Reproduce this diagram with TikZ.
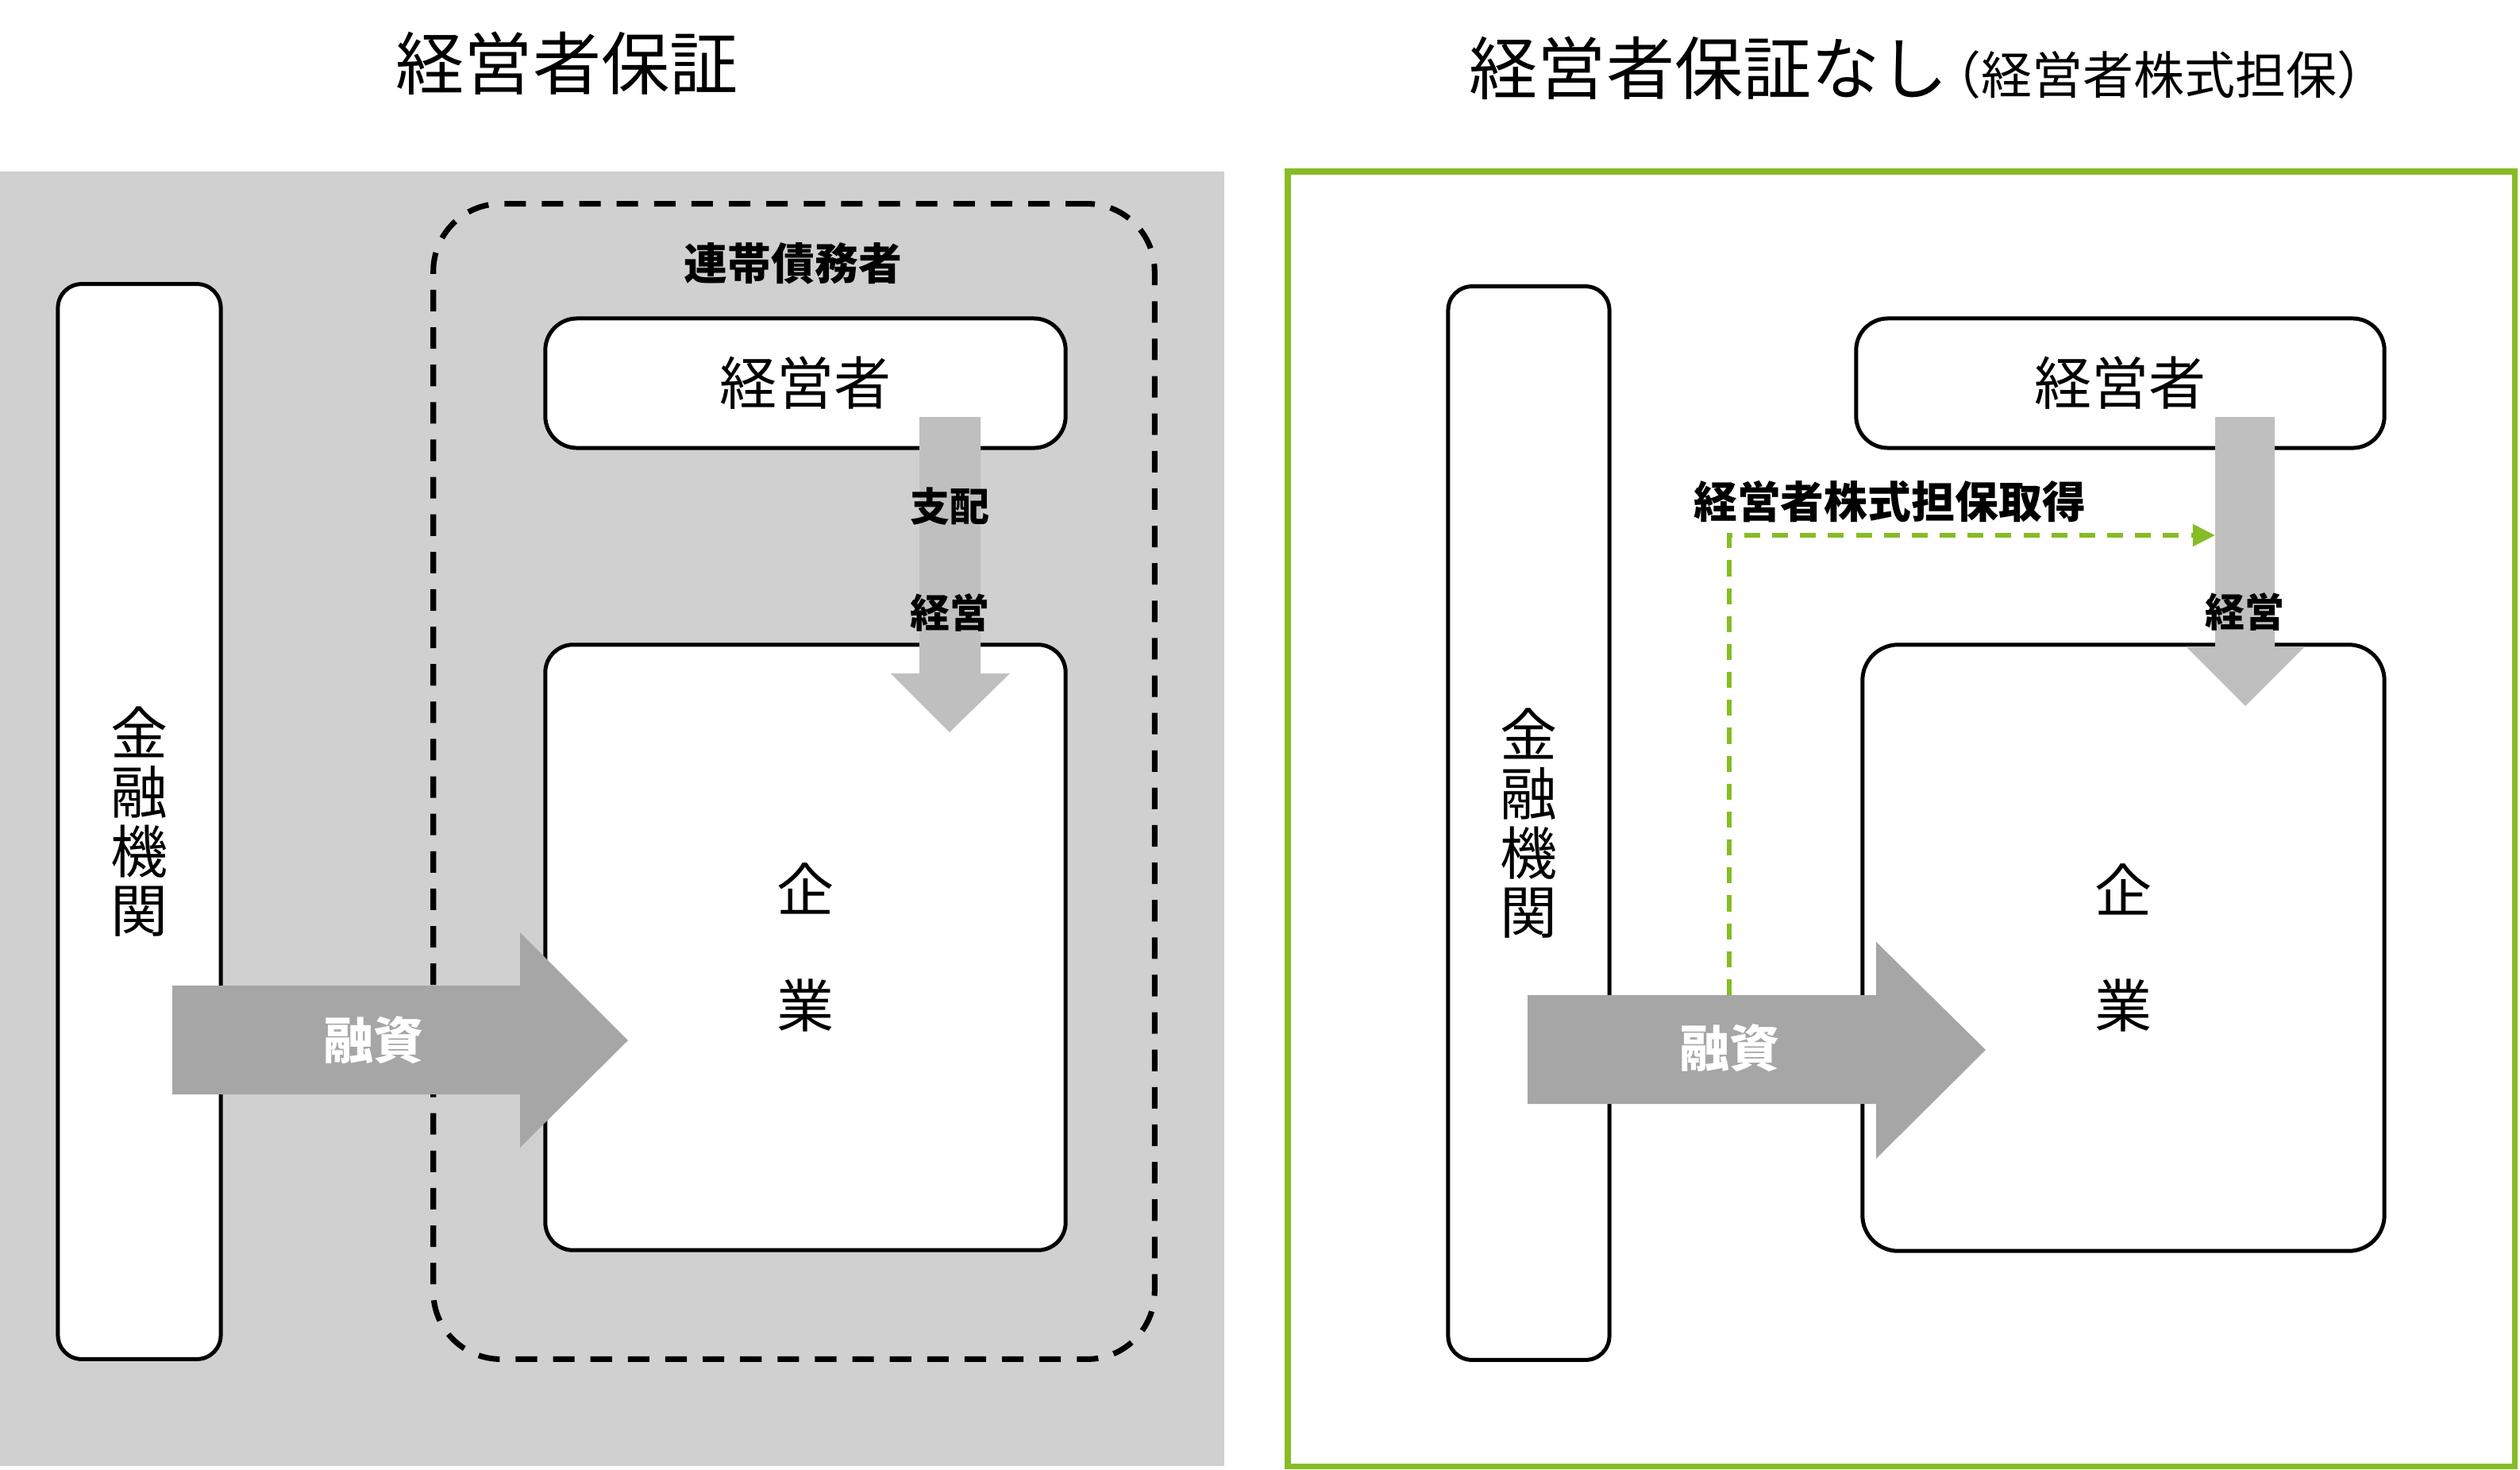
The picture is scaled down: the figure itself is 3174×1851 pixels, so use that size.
\documentclass[tikz,border=0pt]{standalone}
\usepackage{fontspec}
\setmainfont{Noto Sans CJK JP}
\usetikzlibrary{arrows.meta}
\definecolor{panelgray}{HTML}{D0D0D0}
\definecolor{arrowlight}{HTML}{BFBFBF}
\definecolor{arrowdark}{HTML}{A6A6A6}
\definecolor{accentgreen}{HTML}{86BC25}
\begin{document}
\begin{tikzpicture}[x=0.01cm,y=-0.01cm,
  box/.style={draw=black, fill=white, line width=1.42pt, inner sep=0pt},
  titlefont/.style={font={\fontsize{24.5pt}{29pt}\selectfont}},
  boxfont/.style={font={\fontsize{20.5pt}{21.1pt}\selectfont}},
  labelbold/.style={font={\fontsize{15.6pt}{18pt}\selectfont\bfseries}},
  smallbold/.style={font={\fontsize{14.2pt}{17pt}\selectfont\bfseries}},
  loanfont/.style={font={\fontsize{17.9pt}{20pt}\selectfont\bfseries}, text=white},
  txt/.style={inner sep=0pt}
]
\useasboundingbox (0,0) rectangle (3174,1851);

% panels
\fill[panelgray] (0,216) rectangle (1542,1846);
\draw[accentgreen, line width=2pt] (1622,216) rectangle (3167,1846);

% titles
\node[txt, titlefont, anchor=west] (title1) at (498,80) {経営者保証};
\node[txt, titlefont, anchor=west] (title2) at (1850,86) {経営者保証なし{\fontsize{18.2pt}{20pt}\selectfont\hspace{-0.35em}（経営者株式担保）}};

% ---------- left panel ----------
\node[draw=black, line width=2pt, dash pattern=on 7.7pt off 5.7pt, rounded corners=0.85cm,
      minimum width=9.08cm, minimum height=14.54cm, inner sep=0pt] (joint) at (1000,984) {};
\node[txt, labelbold] (jointlbl) at (999,332) {連帯債務者};

\node[box, rounded corners=0.3cm, minimum width=2.05cm, minimum height=13.53cm, boxfont, align=center]
  (fin1) at (175.5,1034.5) {金\\融\\機\\関};
\node[box, rounded corners=0.4cm, minimum width=6.55cm, minimum height=1.63cm, boxfont]
  (mgr1) at (1014.5,482.5) {経営者};
\node[box, rounded corners=0.35cm, minimum width=6.55cm, minimum height=7.62cm,
      font={\fontsize{20.5pt}{41.3pt}\selectfont}, align=center]
  (co1) at (1014.5,1193) {企\\業};

% control arrow (left)
\coordinate (c1a) at (1158,525);
\coordinate (c1b) at (1235,525);
\coordinate (c1tip) at (1196,922);
\fill[arrowlight] (c1a) -- (c1b) -- (1235,848) -- (1272,848) -- (c1tip) -- (1122,848) -- (1158,848) -- cycle;
\node[txt, smallbold] (ctrl1) at (1196,638) {支配};
\node[txt, smallbold] (mng1) at (1196,771) {経営};

% loan arrow (left)
\coordinate (l1tip) at (791,1310);
\fill[arrowdark] (217,1241) -- (655,1241) -- (655,1174) -- (l1tip) -- (655,1445) -- (655,1378) -- (217,1378) -- cycle;
\node[txt, loanfont] (loan1) at (470,1310) {融資};

% ---------- right panel ----------
\node[box, rounded corners=0.3cm, minimum width=2.03cm, minimum height=13.51cm, boxfont, align=center]
  (fin2) at (1925.5,1036.5) {金\\融\\機\\関};
\node[box, rounded corners=0.4cm, minimum width=6.65cm, minimum height=1.63cm, boxfont]
  (mgr2) at (2670.5,482.5) {経営者};
\node[box, rounded corners=0.45cm, minimum width=6.57cm, minimum height=7.63cm,
      font={\fontsize{20.5pt}{41.3pt}\selectfont}, align=center]
  (co2) at (2674.5,1193.5) {企\\業};

% control arrow (right)
\coordinate (c2left) at (2790,674);
\fill[arrowlight] (2790,525) -- (2865,525) -- (2865,814) -- (2903,814) -- (2828,889) -- (2753,814) -- (2790,814) -- cycle;
\node[txt, smallbold] (mng2) at (2827,770) {経営};

% loan arrow (right)
\coordinate (l2top) at (2178,1253);
\fill[arrowdark] (1924,1253) -- (2363,1253) -- (2363,1186) -- (2501,1322) -- (2363,1459) -- (2363,1390) -- (1924,1390) -- cycle;
\node[txt, loanfont] (loan2) at (2178,1320) {融資};

% green dashed connector
\draw[accentgreen, line width=1.5pt, dash pattern=on 5.7pt off 4.3pt,
      -{Triangle[length=8pt, width=7.7pt]}] (l2top) |- (c2left);
\node[txt, labelbold] (pledge) at (2380,632) {経営者株式担保取得};
\end{tikzpicture}
\end{document}
